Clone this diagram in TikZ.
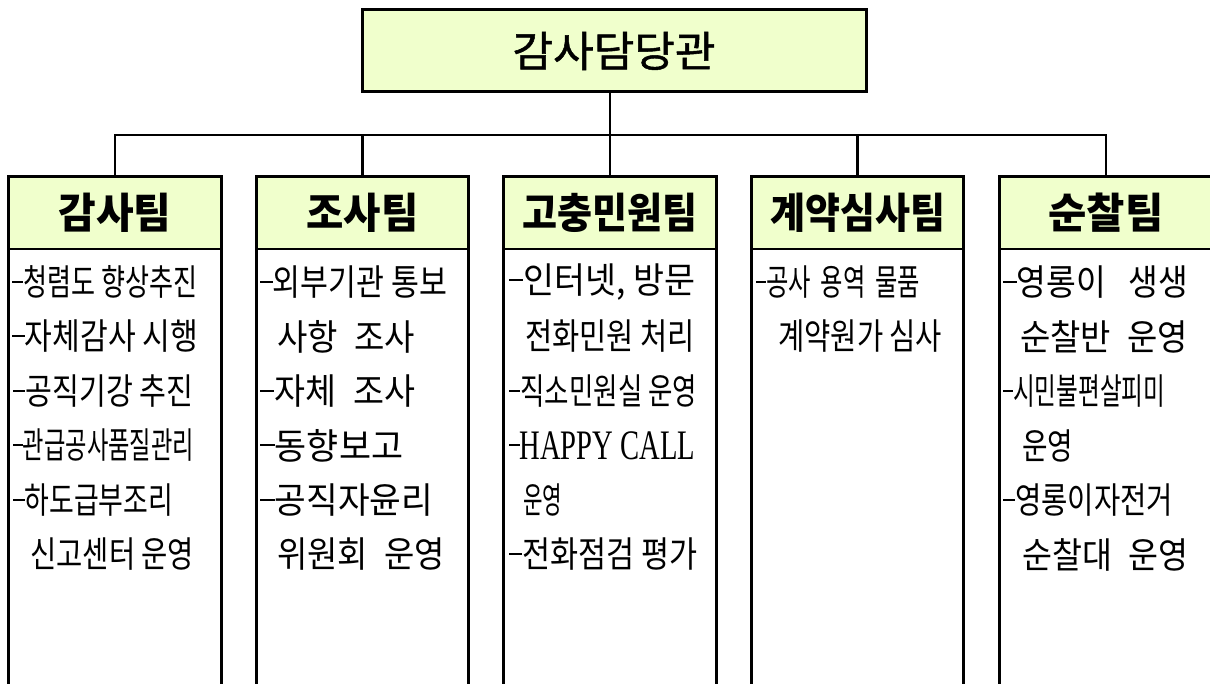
\documentclass[tikz,border=0pt]{standalone}
\usepackage{fontspec}
\usepackage{graphicx}
\newfontfamily\kr{Noto Sans CJK KR}
\newfontfamily\krm{Noto Sans CJK KR}[FakeBold=1.2]
\newfontfamily\latinserif{Liberation Serif}
\definecolor{hdrfill}{RGB}{240,255,204}
\newsavebox\fitbox
\newcommand\fitw[2]{\sbox\fitbox{#2}\pgfmathsetmacro\fitr{#1/\wd\fitbox}\scalebox{\fitr}[1]{\usebox\fitbox}}
\newcommand\dsh{\rule[0.36em]{0.42em}{0.055em}}
\newcommand\Ln[5]{\node[bodyline] (#1) at (#2,#3) {\fitw{#4}{#5}};}
\tikzset{
  hdrbox/.style={draw=black, line width=1.4pt, fill=hdrfill, minimum width=211pt, minimum height=72pt, inner sep=0pt,
    font=\kr\bfseries\fontsize{42}{44}\selectfont},
  topbox/.style={draw=black, line width=3pt, fill=hdrfill, minimum width=504pt, minimum height=82pt, inner sep=0pt,
    font=\krm\fontsize{42}{44}\selectfont},
  boxline/.style={line width=3pt, line cap=rect},
  conn/.style={line width=2.8pt},
  bodyline/.style={anchor=west, inner sep=0pt, font=\kr\fontsize{36}{38}\selectfont}
}
\begin{document}
\begin{tikzpicture}[x=1pt,y=-1pt]
\useasboundingbox (0,0) rectangle (1210,684);
\clip (0,0) rectangle (1210,684);
\fill[white] (0,0) rectangle (1210,684);
\coordinate (bot) at (0,700);
\coordinate (bus) at (0,135);
% top box
\node[topbox] (top) at (614,51) {\fitw{203}{감사담당관}};
% team headers
\node[hdrbox] (t1) at (115,213) {\fitw{113}{감사팀}};
\node[hdrbox] (t2) at (362.5,213) {\fitw{112}{조사팀}};
\node[hdrbox] (t3) at (610,213) {\fitw{175}{고충민원팀}};
\node[hdrbox] (t4) at (857.5,213) {\fitw{175}{계약심사팀}};
\node[hdrbox] (t5) at (1106,213) {\fitw{115}{순찰팀}};
\foreach \t in {t1,t2,t3,t4,t5}{
  \draw[boxline] (\t.north west |- bot) -- (\t.north west) -- (\t.north east) -- (\t.north east |- bot);
}
% connectors
\draw[conn] (top.south -| t3.north) -- (t3.north);
\draw[conn] (t1.north) -- (t1.north |- bus) -- (t5.north |- bus) -- (t5.north);
\draw[conn] (t2.north) -- (t2.north |- bus);
\draw[conn] (t4.north) -- (t4.north |- bus);
% 감사팀
\Ln{a1}{12}{282}{185}{\dsh{}청렴도 향상추진}
\Ln{a2}{12}{336.5}{186}{\dsh{}자체감사 시행}
\Ln{a3}{13}{391}{180}{\dsh{}공직기강 추진}
\Ln{a4}{13}{445.5}{181}{\dsh{}관급공사품질관리}
\Ln{a5}{13}{500}{160}{\dsh{}하도급부조리}
\Ln{a6}{30}{554.5}{164}{신고센터 운영}
% 조사팀
\Ln{b1}{260}{282}{187}{\dsh{}외부기관 통보}
\Ln{b2}{277}{336.5}{138}{사항\hspace{0.5em}조사}
\Ln{b3}{260}{391}{155}{\dsh{}자체\hspace{0.5em}조사}
\Ln{b4}{260}{445.5}{143}{\dsh{}동향보고}
\Ln{b5}{260}{500}{173}{\dsh{}공직자윤리}
\Ln{b6}{277}{554.5}{168}{위원회\hspace{0.5em}운영}
% 고충민원팀
\Ln{c1}{509}{282}{186}{\dsh{}인터넷, 방문}
\Ln{c2}{525}{336.5}{170}{전화민원 처리}
\Ln{c3}{509}{391}{188}{\dsh{}직소민원실 운영}
\Ln{c4}{509}{445.5}{186}{\dsh{}{\latinserif\fontsize{42}{42}\selectfont HAPPY CALL}}
\Ln{c5}{523}{500}{39}{운영}
\Ln{c6}{509}{554.5}{188}{\dsh{}전화점검 평가}
% 계약심사팀
\Ln{d1}{756}{282}{164}{\dsh{}공사\hspace{0.4em}용역\hspace{0.4em}물품}
\Ln{d2}{778}{336.5}{164}{계약원가 심사}
% 순찰팀
\Ln{e1}{1003}{282}{185}{\dsh{}영롱이\hspace{0.7em}생생}
\Ln{e2}{1020}{336.5}{168}{순찰반\hspace{0.5em}운영}
\Ln{e3}{1003}{391}{162}{\dsh{}시민불편살피미}
\Ln{e4}{1022}{445.5}{51}{운영}
\Ln{e5}{1003}{500}{170}{\dsh{}영롱이자전거}
\Ln{e6}{1022}{554.5}{166}{순찰대\hspace{0.5em}운영}
\end{tikzpicture}
\end{document}
